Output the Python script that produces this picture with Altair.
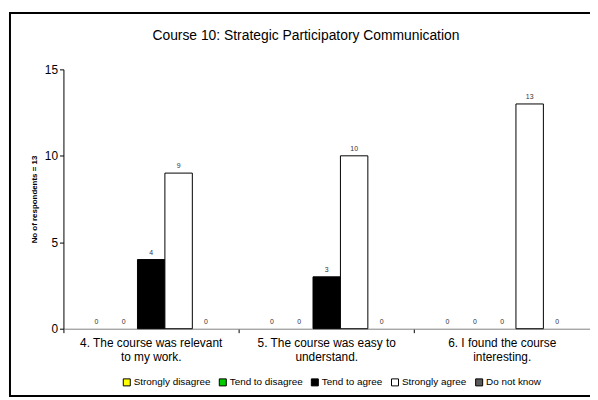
import altair as alt
import pandas as pd

questions = [
    "4. The course was relevant\nto my work.",
    "5. The course was easy to\nunderstand.",
    "6. I found the course\ninteresting.",
]
categories = ["Strongly disagree", "Tend to disagree", "Tend to agree", "Strongly agree", "Do not know"]
colors = ["#FFFF00", "#00CC00", "#000000", "#FFFFFF", "#5A5A5A"]
q4_values = [0, 0, 4, 9, 0]
q5_values = [0, 0, 3, 10, 0]
q6_values = [0, 0, 0, 13, 0]

rows = []
for q, vals in zip(questions, [q4_values, q5_values, q6_values]):
    for c, v in zip(categories, vals):
        rows.append({"question": q, "category": c, "value": v})
df = pd.DataFrame(rows)

FONT = "Liberation Sans"
W, H = 532, 262

x_enc = alt.X("question:N", sort=questions, title=None,
              scale=alt.Scale(paddingInner=0, paddingOuter=0),
              axis=alt.Axis(labelAngle=0, bandPosition=0, labelExpr="split(datum.label, '\\n')",
                            labelFontSize=12, labelFont=FONT, labelColor="#000",
                            labelLineHeight=14, labelPadding=5,
                            domainColor="#808080", tickColor="#000", tickSize=4))
xoff = alt.XOffset("category:N", sort=categories,
                   scale=alt.Scale(paddingInner=0, paddingOuter=0.7))
y_enc = alt.Y("value:Q", title="No of respondents = 13",
              scale=alt.Scale(domain=[0, 15], nice=False),
              axis=alt.Axis(values=[0, 5, 10, 15], grid=False, labelFontSize=12, labelFont=FONT,
                            labelColor="#000", domainColor="#000", tickColor="#000", tickSize=4,
                            titleFont=FONT, titleFontSize=8, titleFontWeight="bold",
                            titleColor="#000", titlePadding=6))

base = alt.Chart(df)

bars = base.transform_filter("datum.value > 0").mark_bar(stroke="black", strokeWidth=1).encode(
    x=x_enc, xOffset=xoff, y=y_enc,
    fill=alt.Fill("category:N", sort=categories,
                  scale=alt.Scale(domain=categories, range=colors),
                  legend=alt.Legend(title=None, orient="none", legendX=59, legendY=311,
                                    direction="horizontal", columns=5, symbolType="square",
                                    symbolSize=50, symbolStrokeColor="black", symbolStrokeWidth=1,
                                    labelFont=FONT, labelFontSize=10, labelColor="#000",
                                    labelOffset=2, columnPadding=6)),
)

labels = base.mark_text(dy=-7, fontSize=7, font=FONT).encode(
    x=x_enc, xOffset=xoff, y=y_enc, text=alt.Text("value:Q"),
    fill=alt.value("#333333"),
)

frame = alt.Chart(pd.DataFrame({"v": [0]})).mark_rect(
    fill=None, stroke="black", strokeWidth=2, clip=False
).encode(x=alt.value(-54), x2=alt.value(W + 10), y=alt.value(-57), y2=alt.value(H + 68))

chart = alt.layer(frame, bars, labels).properties(
    width=W, height=H,
    title=alt.TitleParams("Course 10: Strategic Participatory Communication", font=FONT,
                          fontSize=14, fontWeight="normal", color="#000", offset=-31, dx=-21,
                          frame="group"),
    padding={"left": 56, "top": 60, "right": 0, "bottom": 68},
    autosize=alt.AutoSizeParams(type="none"),
).configure_view(stroke=None)

chart.save("out.html", embed_options={"renderer": "svg", "actions": False})
